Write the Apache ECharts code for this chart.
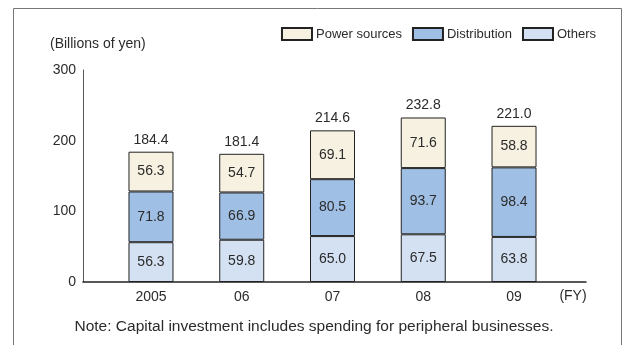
<!DOCTYPE html>
<html>
<head>
<meta charset="utf-8">
<script src="https://cdn.jsdelivr.net/npm/echarts@6/dist/echarts.min.js"></script>
<style>
  html, body { margin: 0; padding: 0; background: #fff; }
  #chart { width: 622px; height: 345px; }
</style>
</head>
<body>
<div id="chart"></div>
<script>
// Capital investment by fiscal year (billions of yen)
const years = ['2005', '06', '07', '08', '09'];
const others = [56.3, 59.8, 65.0, 67.5, 63.8];
const distribution = [71.8, 66.9, 80.5, 93.7, 98.4];
const powerSources = [56.3, 54.7, 69.1, 71.6, 58.8];
const totals = [184.4, 181.4, 214.6, 232.8, 221.0];
const yTicks = [0, 100, 200, 300];

const FONT = '"Liberation Sans", Arial, Helvetica, sans-serif';
const TEXT = '#2b2b2b';

const chart = echarts.init(document.getElementById('chart'), null, { renderer: 'canvas' });

const barLabel = {
  show: true,
  position: 'inside',
  color: TEXT,
  fontSize: 14,
  fontFamily: FONT,
  formatter: p => p.value.toFixed(1)
};

chart.setOption({
  animation: false,
  backgroundColor: '#fff',
  textStyle: { fontFamily: FONT },
  legend: {
    data: ['Power sources', 'Distribution', 'Others'],
    icon: 'rect',
    right: 21,
    top: 22,
    itemWidth: 30,
    itemHeight: 12,
    itemGap: 10,
    textStyle: { color: TEXT, fontSize: 13, fontFamily: FONT, padding: [0, 0, 0, -1] }
  },
  grid: [
    { left: 83, right: 36, top: 70, bottom: 63 },
    { left: 105.6, right: 62.6, top: 70, bottom: 63 }
  ],
  xAxis: [
    {
      gridIndex: 0, type: 'value', min: 0, max: 1,
      axisLine: { show: true, lineStyle: { color: '#222', width: 1.5 } },
      axisTick: { show: false }, axisLabel: { show: false }, splitLine: { show: false }
    },
    {
      gridIndex: 1, type: 'category', data: years,
      axisLine: { show: false }, axisTick: { show: false }, splitLine: { show: false },
      axisLabel: { color: TEXT, fontSize: 14, fontFamily: FONT, margin: 8 }
    }
  ],
  yAxis: [
    {
      gridIndex: 0, type: 'value', min: yTicks[0], max: yTicks[yTicks.length - 1], interval: 100,
      axisLine: { show: true, lineStyle: { color: '#555', width: 1 } },
      axisTick: { show: false }, splitLine: { show: false },
      axisLabel: { color: TEXT, fontSize: 14, fontFamily: FONT, margin: 7 }
    },
    {
      gridIndex: 1, type: 'value', min: 0, max: 300, show: false
    }
  ],
  series: [
    {
      name: 'Others', type: 'bar', stack: 'inv', xAxisIndex: 1, yAxisIndex: 1,
      data: others, barWidth: 45,
      itemStyle: { color: '#d4e1f2', borderColor: '#222', borderWidth: 1 },
      label: barLabel
    },
    {
      name: 'Distribution', type: 'bar', stack: 'inv', xAxisIndex: 1, yAxisIndex: 1,
      data: distribution, barWidth: 45,
      itemStyle: { color: '#a0bfe4', borderColor: '#222', borderWidth: 1 },
      label: barLabel
    },
    {
      name: 'Power sources', type: 'bar', stack: 'inv', xAxisIndex: 1, yAxisIndex: 1,
      data: powerSources, barWidth: 45,
      itemStyle: { color: '#f6f1e0', borderColor: '#222', borderWidth: 1 },
      label: barLabel
    },
    {
      name: 'Total', type: 'scatter', xAxisIndex: 1, yAxisIndex: 1,
      data: totals, symbolSize: 0, silent: true,
      itemStyle: { color: TEXT, opacity: 1 },
      label: {
        show: true, position: 'top', distance: 5,
        color: TEXT, fontSize: 14, fontFamily: FONT,
        formatter: p => p.value.toFixed(1)
      }
    }
  ],
  graphic: [
    {
      type: 'rect', silent: true,
      shape: { x: 13.5, y: 8.5, width: 608, height: 400 },
      style: { fill: 'none', stroke: '#777', lineWidth: 1 }
    },
    {
      type: 'text', left: 50, top: 37,
      style: { text: '(Billions of yen)', fill: TEXT, fontSize: 14, fontFamily: FONT }
    },
    {
      type: 'text', x: 573, y: 296,
      style: { text: '(FY)', fill: TEXT, fontSize: 14, fontFamily: FONT, align: 'center', verticalAlign: 'middle' }
    },
    {
      type: 'text', x: 314, y: 327,
      style: {
        text: 'Note: Capital investment includes spending for peripheral businesses.',
        fill: TEXT, fontSize: 15.5, fontFamily: FONT, align: 'center', verticalAlign: 'middle'
      }
    }
  ]
});
</script>
</body>
</html>
